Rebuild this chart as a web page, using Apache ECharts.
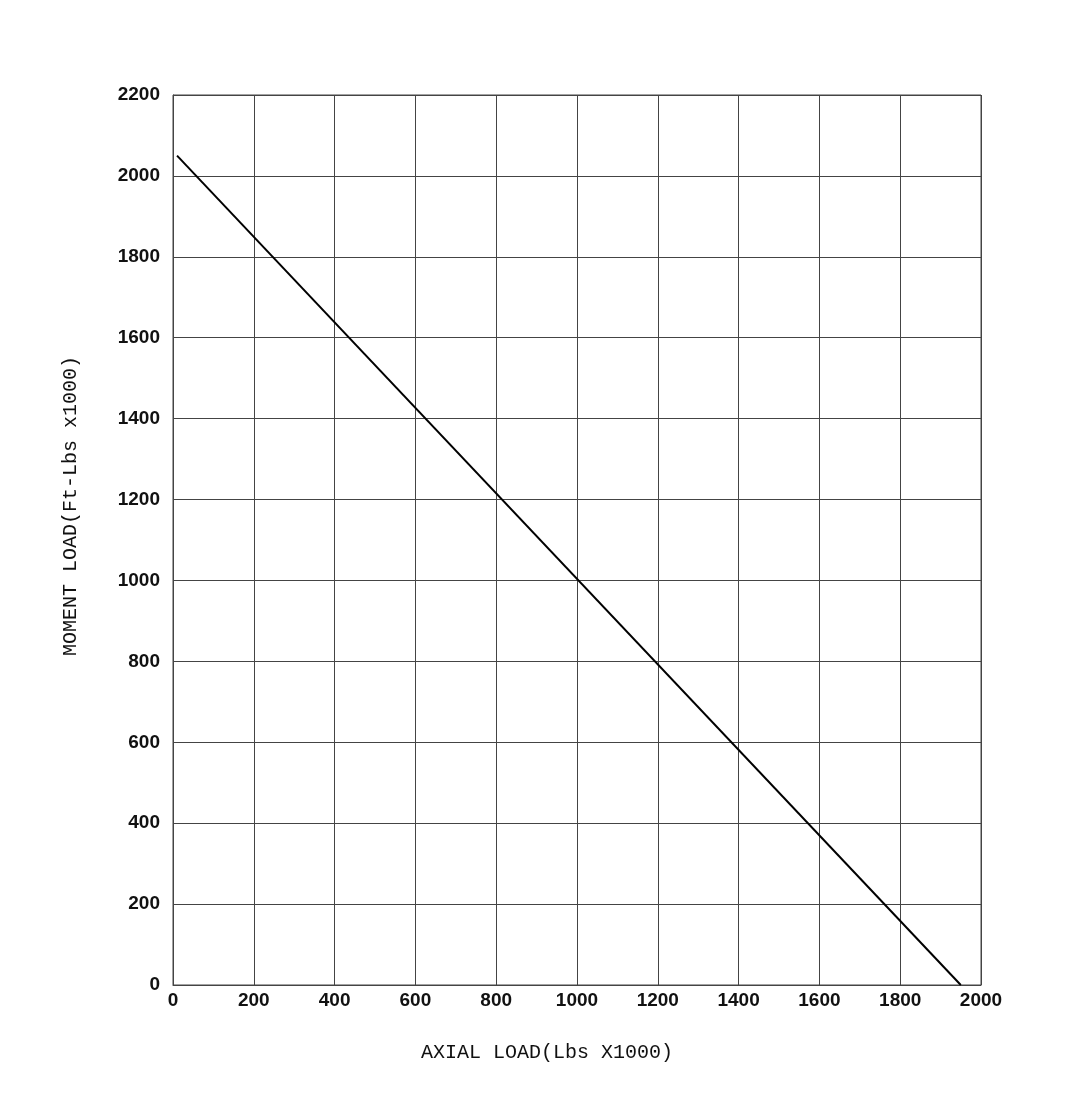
<!DOCTYPE html>
<html><head><meta charset="utf-8">
<script src="https://cdn.jsdelivr.net/npm/echarts@6/dist/echarts.min.js"></script>
<style>html,body{margin:0;padding:0;background:#fff}#c{width:1079px;height:1105px}</style>
</head><body><div id="c"></div>
<script>
const xName = 'AXIAL LOAD(Lbs X1000)';
const yName = 'MOMENT LOAD(Ft-Lbs x1000)';
const axialLoad = [10, 1950];
const momentLoad = [2050, 0];

const chart = echarts.init(document.getElementById('c'));
const labelFont = {fontFamily:'"Liberation Sans",Arial,sans-serif', fontWeight:'bold', fontSize:19, color:'#111'};
const nameFont = {fontFamily:'"Liberation Mono","DejaVu Sans Mono",monospace', fontSize:20, color:'#111'};
chart.setOption({
  animation:false,
  backgroundColor:'#fff',
  grid:{left:173, top:95, width:808, height:890, show:true, borderColor:'#444', borderWidth:1},
  xAxis:{type:'value', min:0, max:2000, interval:200,
    name:xName, nameLocation:'middle', nameGap:58,
    nameTextStyle:Object.assign({padding:[0,60,0,0]}, nameFont),
    axisLine:{show:true, lineStyle:{color:'#444', width:1}},
    axisTick:{show:false},
    axisLabel:Object.assign({margin:6, formatter:v=>String(v)}, labelFont),
    splitLine:{show:true, lineStyle:{color:'#444', width:1}}},
  yAxis:{type:'value', min:0, max:2200, interval:200,
    name:yName, nameLocation:'middle', nameGap:92,
    nameTextStyle:Object.assign({padding:[0,0,0,68]}, nameFont),
    axisLine:{show:true, lineStyle:{color:'#444', width:1}},
    axisTick:{show:false},
    axisLabel:Object.assign({margin:13, formatter:v=>String(v)}, labelFont),
    splitLine:{show:true, lineStyle:{color:'#444', width:1}}},
  series:[{type:'line', data:axialLoad.map((x,i)=>[x, momentLoad[i]]), symbol:'none',
    lineStyle:{color:'#000', width:2}}]
});
</script></body></html>
